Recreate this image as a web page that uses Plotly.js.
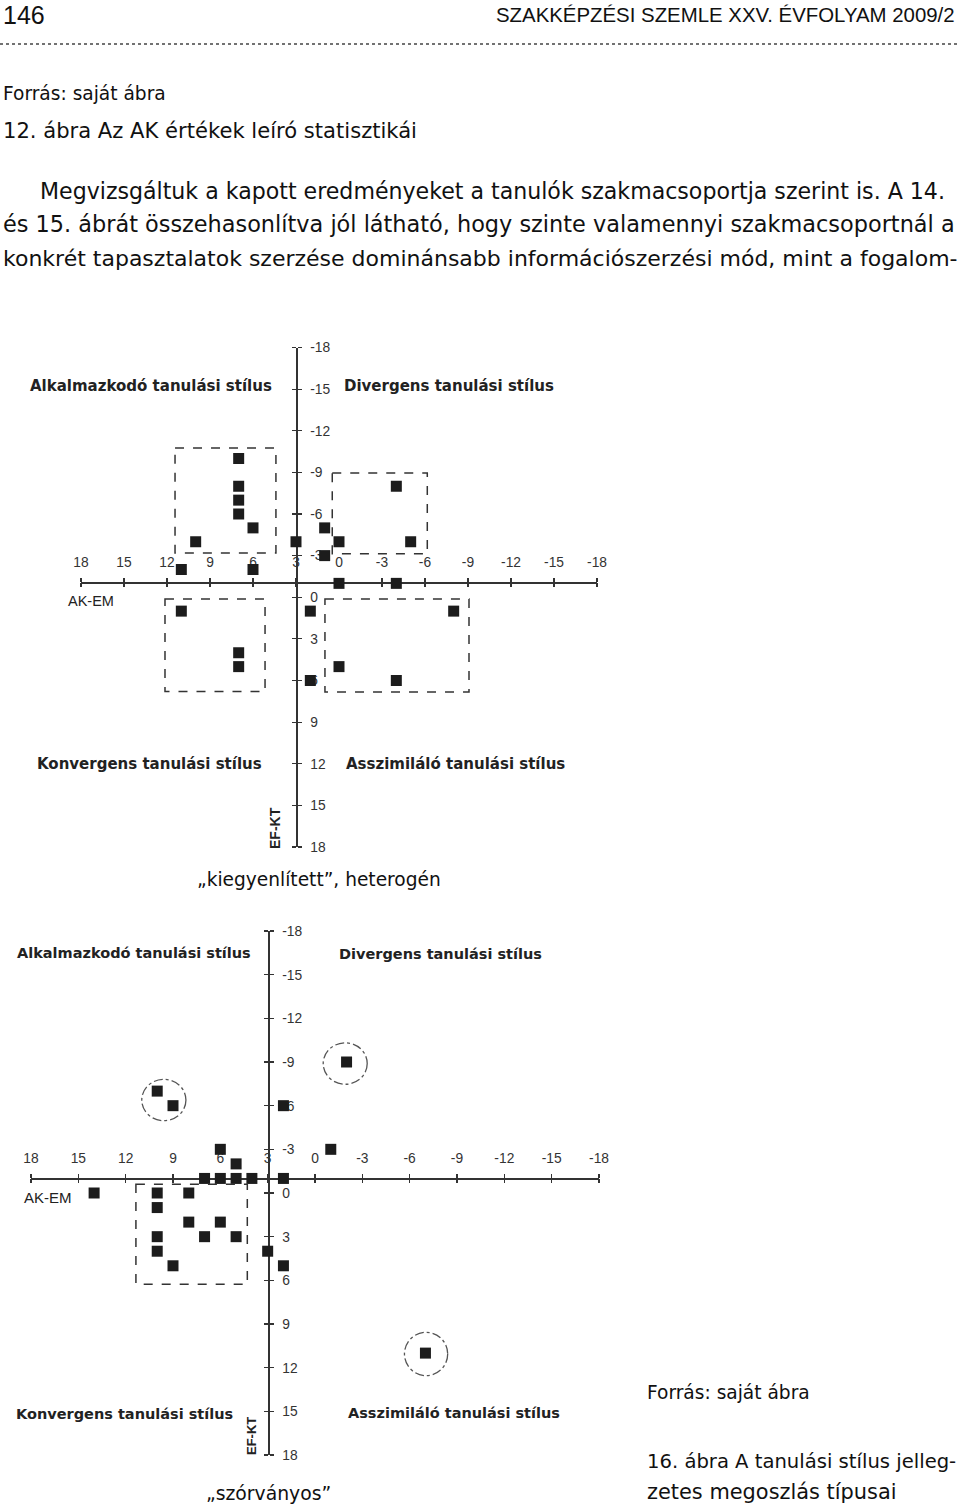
<!DOCTYPE html>
<html><head><meta charset="utf-8">
<script src="https://cdn.plot.ly/plotly-3.0.1.min.js"></script>
<style>html,body{margin:0;padding:0;background:#fff;} #chart{width:960px;height:1511px;}</style>
</head><body><div id="chart"></div>
<script>
// ---- data ----
const tickValues = [18,15,12,9,6,3,0,-3,-6,-9,-12,-15,-18];
const tickLabels = ["18","15","12","9","6","3","0","-3","-6","-9","-12","-15","-18"];
// "kiegyenlített, heterogén" chart (AK-EM, EF-KT)
const kiegyenlitettX = [7,7,7,7,6,10,3,11,6,1,1,0,-4,-5,0,-4,11,7,7,2,2,0,-8,-4];
const kiegyenlitettY = [-10,-8,-7,-6,-5,-4,-4,-2,-2,-5,-3,-4,-8,-4,-1,-1,1,4,5,1,6,5,1,6];
// "szórványos" chart
const szorvanyosX = [10,9,2,6,-1,5,7,6,5,4,2,14,10,8,10,8,6,10,7,5,10,3,9,2,-2,-7];
const szorvanyosY = [-7,-6,-6,-3,-3,-2,-1,-1,-1,-1,-1,0,0,0,1,2,2,3,3,3,4,4,5,5,-9,11];

const W = 960, H = 1511;
const px = v => v / W;
const py = v => 1 - v / H;

const TICKFONT = {family:'Liberation Sans, Arial, sans-serif', size:13.8, color:'#333'};
const ARIAL = 'Liberation Sans, Arial, sans-serif';
const BODY = 'DejaVu Sans, Verdana, sans-serif';
const LABELFONT = 'DejaVu Sans, Verdana, sans-serif';

function mainX(domain, pos){
  return {domain, range:[18,-18], anchor:'free', position:pos, side:'top',
    showline:true, linecolor:'#333', linewidth:1.5, ticks:'outside', ticklen:4, tickwidth:1.2, tickcolor:'#333',
    tickmode:'array', tickvals:tickValues, ticktext:tickLabels, tickfont:TICKFONT, ticklabelstandoff:5,
    showgrid:false, zeroline:false, layer:'below traces', fixedrange:true};
}
function mainY(domain, pos){
  return {domain, range:[18,-18], anchor:'free', position:pos, side:'right',
    showline:true, linecolor:'#333', linewidth:1.5, ticks:'outside', ticklen:4, tickwidth:1.2, tickcolor:'#333',
    tickmode:'array', tickvals:tickValues, ticktext:tickLabels, tickfont:TICKFONT, ticklabelstandoff:6,
    showgrid:false, zeroline:false, layer:'below traces', fixedrange:true};
}
function overX(base, pos){
  return {overlaying:base, range:[18,-18], anchor:'free', position:pos, side:'bottom',
    showline:false, ticks:'outside', ticklen:4, tickwidth:1.2, tickcolor:'#333',
    tickmode:'array', tickvals:tickValues, showticklabels:false,
    showgrid:false, zeroline:false, layer:'below traces', fixedrange:true};
}
function overY(base, pos){
  return {overlaying:base, range:[18,-18], anchor:'free', position:pos, side:'left',
    showline:false, ticks:'outside', ticklen:4, tickwidth:1.2, tickcolor:'#333',
    tickmode:'array', tickvals:tickValues, showticklabels:false,
    showgrid:false, zeroline:false, layer:'below traces', fixedrange:true};
}

const markerStyle = {symbol:'square', size:11, color:'#1c1c1c', line:{width:0}};
const traces = [
  {type:'scatter', mode:'markers', x:kiegyenlitettX, y:kiegyenlitettY, xaxis:'x', yaxis:'y', marker:markerStyle, cliponaxis:false, hoverinfo:'x+y'},
  {type:'scatter', mode:'markers', x:szorvanyosX, y:szorvanyosY, xaxis:'x2', yaxis:'y2', marker:markerStyle, cliponaxis:false, hoverinfo:'x+y'},
  {type:'scatter', mode:'markers', x:[], y:[], xaxis:'x3', yaxis:'y3', hoverinfo:'skip'},
  {type:'scatter', mode:'markers', x:[], y:[], xaxis:'x4', yaxis:'y4', hoverinfo:'skip'}
];

const c1x = [px(81), px(597)], c1y = [py(847), py(347.5)];
const c1ax = py(582), c1ay = px(296);
const c2x = [px(31), px(599)], c2y = [py(1455), py(931)];
const c2ax = py(1178), c2ay = px(268);

function ann(text, x, y, family, size, o={}){
  return Object.assign({text, x:px(x), y:py(y), xref:'paper', yref:'paper', showarrow:false,
    xanchor:'left', yanchor:'middle', font:{family, size, color:'#111'}}, o);
}
function lab(text, x, y, size){
  return ann('<b>'+text+'</b>', x, y, LABELFONT, size, {font:{family:LABELFONT, size, color:'#222'}});
}

const annotations = [
  ann('146', 1, 15, ARIAL, 25),
  ann('SZAKKÉPZÉSI SZEMLE XXV. ÉVFOLYAM 2009/2', 957, 15, ARIAL, 20.4, {xanchor:'right'}),
  ann('Forrás: saját ábra', 1, 93, BODY, 18.6),
  ann('12. ábra Az AK értékek leíró statisztikái', 1, 131, BODY, 21.1),
  ann('Megvizsgáltuk a kapott eredményeket a tanulók szakmacsoportja szerint is. A 14.', 38, 191, BODY, 22.1),
  ann('és 15. ábrát összehasonlítva jól látható, hogy szinte valamennyi szakmacsoportnál a', 1, 224, BODY, 22.4),
  ann('konkrét tapasztalatok szerzése dominánsabb információszerzési mód, mint a fogalom-', 1, 258, BODY, 22.0),

  lab('Alkalmazkodó tanulási stílus', 28, 386, 15),
  lab('Divergens tanulási stílus', 342, 386, 15),
  lab('Konvergens tanulási stílus', 35, 764, 15),
  lab('Asszimiláló tanulási stílus', 344, 764, 15),
  ann('AK-EM', 66, 601, ARIAL, 14.5, {font:{family:ARIAL, size:14.5, color:'#222'}}),
  ann('<b>EF-KT</b>', 275, 828, ARIAL, 14, {xanchor:'center', textangle:-90, font:{family:ARIAL, size:14, color:'#222'}}),
  ann('„kiegyenlített”, heterogén', 195, 879, BODY, 18.6),

  lab('Alkalmazkodó tanulási stílus', 15, 953, 14.5),
  lab('Divergens tanulási stílus', 337, 954, 14.5),
  lab('Konvergens tanulási stílus', 14, 1414, 14.5),
  lab('Asszimiláló tanulási stílus', 346, 1413, 14.5),
  ann('AK-EM', 22, 1197, ARIAL, 15, {font:{family:ARIAL, size:15, color:'#222'}}),
  ann('<b>EF-KT</b>', 251, 1436, ARIAL, 13, {xanchor:'center', textangle:-90, font:{family:ARIAL, size:13, color:'#222'}}),
  ann('„szórványos”', 204, 1493, BODY, 18.8),

  ann('Forrás: saját ábra', 645, 1392, BODY, 18.6),
  ann('16. ábra A tanulási stílus jelleg-', 645, 1461, BODY, 19.6),
  ann('zetes megoszlás típusai', 645, 1492, BODY, 20.9)
];

const rectLine = {color:'#333', width:1.5, dash:'dash'};
const circLine = {color:'#555', width:1.3, dash:'dashdot'};
const shapes = [
  {type:'line', xref:'paper', yref:'paper', x0:0, x1:1, y0:py(44), y1:py(44), line:{color:'#444', width:1.5, dash:'dot'}},
  {type:'rect', xref:'x', yref:'y', x0:11.44, x1:4.40, y0:-10.76, y1:-3.19, line:rectLine},
  {type:'rect', xref:'x', yref:'y', x0:0.47, x1:-6.16, y0:-8.95, y1:-3.14, line:rectLine},
  {type:'rect', xref:'x', yref:'y', x0:12.14, x1:5.16, y0:0.13, y1:6.79, line:rectLine},
  {type:'rect', xref:'x', yref:'y', x0:0.98, x1:-9.07, y0:0.13, y1:6.83, line:rectLine},
  {type:'rect', xref:'x2', yref:'y2', x0:11.35, x1:4.29, y0:-0.6, y1:6.27, line:rectLine},
  {type:'circle', xref:'x2', yref:'y2', x0:10.98, x1:8.18, y0:-7.81, y1:-4.97, line:circLine},
  {type:'circle', xref:'x2', yref:'y2', x0:-0.52, x1:-3.31, y0:-10.32, y1:-7.47, line:circLine},
  {type:'circle', xref:'x2', yref:'y2', x0:-5.67, x1:-8.41, y0:9.57, y1:12.55, line:circLine}
];

const layout = {
  width:W, height:H, margin:{l:0,r:0,t:0,b:0,pad:0},
  paper_bgcolor:'#ffffff', plot_bgcolor:'rgba(0,0,0,0)', showlegend:false,
  xaxis: mainX(c1x, c1ax), yaxis: mainY(c1y, c1ay),
  xaxis2: mainX(c2x, c2ax), yaxis2: mainY(c2y, c2ay),
  xaxis3: overX('x', c1ax), yaxis3: overY('y', c1ay),
  xaxis4: overX('x2', c2ax), yaxis4: overY('y2', c2ay),
  annotations, shapes
};

Plotly.newPlot('chart', traces, layout, {displayModeBar:false, staticPlot:true});
</script>
</body></html>
